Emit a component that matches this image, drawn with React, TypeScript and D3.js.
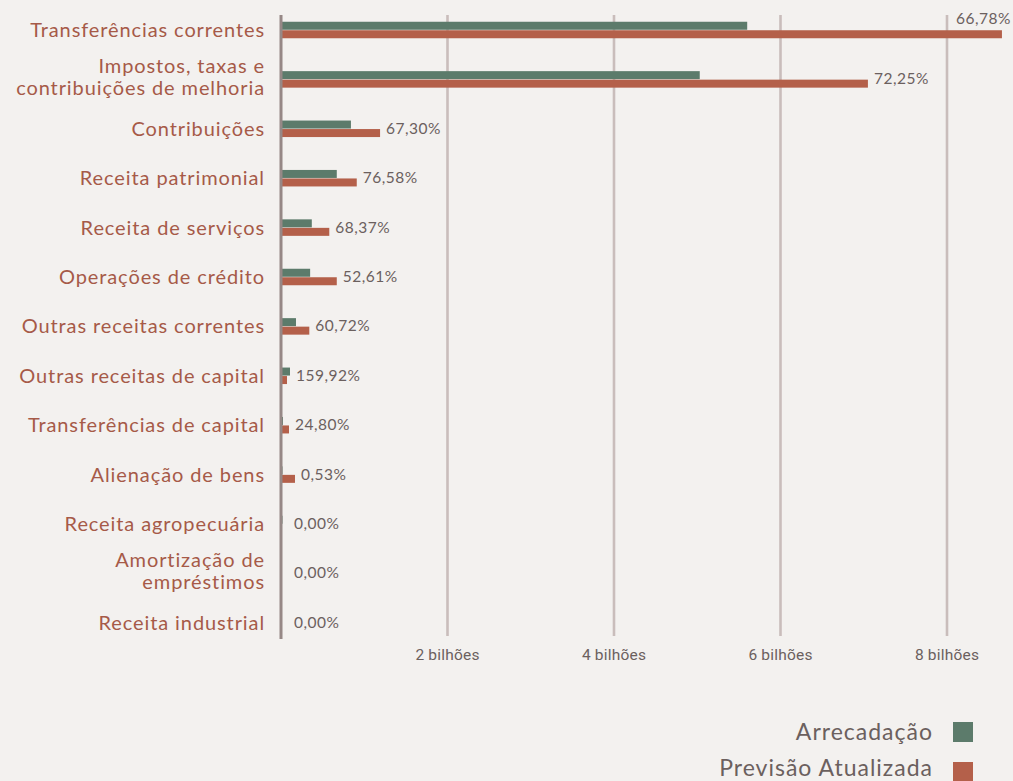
import React from "react";
import * as d3 from "d3";

const categories: string[][] = [
  ["Transferências correntes"],
  ["Impostos, taxas e", "contribuições de melhoria"],
  ["Contribuições"],
  ["Receita patrimonial"],
  ["Receita de serviços"],
  ["Operações de crédito"],
  ["Outras receitas correntes"],
  ["Outras receitas de capital"],
  ["Transferências de capital"],
  ["Alienação de bens"],
  ["Receita agropecuária"],
  ["Amortização de", "empréstimos"],
  ["Receita industrial"],
];

// values in billions
const arrecadacao: number[] = [5.6, 5.03, 0.84, 0.67, 0.37, 0.35, 0.18, 0.108, 0.024, 0.0009, 0.01, 0, 0];
const previsao: number[] = [8.66, 7.05, 1.19, 0.91, 0.58, 0.67, 0.34, 0.072, 0.096, 0.168, 0, 0, 0];
const percentLabels: string[] = ["66,78%", "72,25%", "67,30%", "76,58%", "68,37%", "52,61%", "60,72%", "159,92%", "24,80%", "0,53%", "0,00%", "0,00%", "0,00%"];
const tickValues: number[] = [2, 4, 6, 8];
const legendItems: string[] = ["Arrecadação", "Previsão Atualizada"];

const W = 1013;
const H = 781;
const GREEN = "#5c7b6b";
const ORANGE = "#b4604a";
const AXIS = "#968886";
const GRID = "#c9bdbb";
const CAT = "#a65a48";
const GRAY = "#6b605e";
const FONT = "Lato, 'Open Sans', sans-serif";

export default function App() {
  const x = d3.scaleLinear().domain([0, 8]).range([281, 947]);
  const y = d3.scaleBand<number>().domain(d3.range(categories.length)).range([5.3, 647.5]).padding(0);
  const bw = y.bandwidth();
  const barH = 8;
  const minW = (v: number) => (v > 0 ? Math.max(x(v) - x(0), 1.5) : 0);

  return (
    <svg width={W} height={H} style={{ position: "absolute", left: 0, top: 0, background: "#f3f1ef" }}>
      <rect x={0} y={0} width={W} height={H} fill="#f3f1ef" />
      {/* gridlines */}
      {tickValues.map((t) => (
        <line key={"g" + t} x1={x(t)} x2={x(t)} y1={15} y2={636} stroke={GRID} strokeWidth={2.6} />
      ))}
      {/* tick labels */}
      {tickValues.map((t) => (
        <text key={"t" + t} x={x(t)} y={659.5} textAnchor="middle" fontFamily="Roboto, sans-serif" fontSize={15.5} letterSpacing={0.2} fill={GRAY}>
          {`${t} bilhões`}
        </text>
      ))}
      {/* bars */}
      {categories.map((_, i) => {
        const c = (y(i) as number) + bw / 2;
        return (
          <g key={"b" + i}>
            <rect x={x(0)} y={c - barH - 0.25} width={minW(arrecadacao[i])} height={barH} fill={GREEN} />
            <rect x={x(0)} y={c + 0.25} width={minW(previsao[i])} height={barH} fill={ORANGE} />
          </g>
        );
      })}
      {/* axis line */}
      <line x1={x(0)} x2={x(0)} y1={15} y2={639} stroke={AXIS} strokeWidth={3} />
      {/* category labels */}
      {categories.map((lines, i) => {
        const c = (y(i) as number) + bw / 2;
        if (lines.length === 1) {
          return (
            <text key={"c" + i} x={265} y={c + 7} textAnchor="end" fontFamily={FONT} fontSize={20} letterSpacing={0.9} fill={CAT}>
              {lines[0]}
            </text>
          );
        }
        return (
          <g key={"c" + i}>
            <text x={265} y={c - 6} textAnchor="end" fontFamily={FONT} fontSize={20} letterSpacing={0.9} fill={CAT}>
              {lines[0]}
            </text>
            <text x={265} y={c + 16} textAnchor="end" fontFamily={FONT} fontSize={20} letterSpacing={0.9} fill={CAT}>
              {lines[1]}
            </text>
          </g>
        );
      })}
      {/* percent labels */}
      {categories.map((_, i) => {
        const c = (y(i) as number) + bw / 2;
        const end = x(0) + Math.max(minW(arrecadacao[i]), minW(previsao[i]));
        const lx = Math.max(end + 6, 294);
        const overflow = lx + 55 > W - 4;
        return (
          <text
            key={"p" + i}
            x={overflow ? W - 2 : lx}
            y={overflow ? c - 6 : c + 5}
            textAnchor={overflow ? "end" : "start"}
            fontFamily={FONT}
            fontSize={15.5}
            letterSpacing={0.5}
            fill={GRAY}
          >
            {percentLabels[i]}
          </text>
        );
      })}
      {/* legend */}
      {legendItems.map((name, i) => (
        <g key={"l" + i}>
          <text x={933} y={740 + i * 36} textAnchor="end" fontFamily={FONT} fontSize={23} letterSpacing={1} fill={GRAY}>
            {name}
          </text>
          <rect x={953} y={722 + i * 40} width={20} height={20} fill={i === 0 ? GREEN : ORANGE} />
        </g>
      ))}
    </svg>
  );
}
